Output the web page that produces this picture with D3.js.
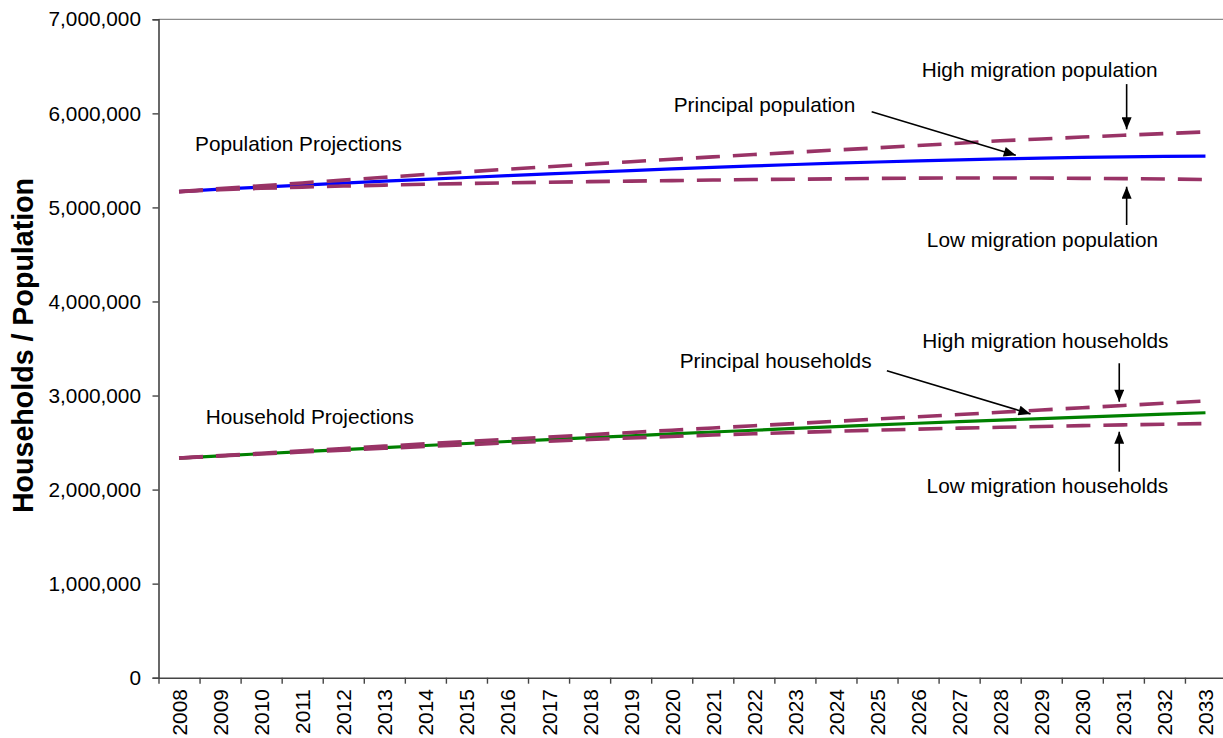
<!DOCTYPE html>
<html>
<head>
<meta charset="utf-8">
<script src="https://cdn.jsdelivr.net/npm/d3@7"></script>
<style>
  html, body { margin: 0; padding: 0; background: #fff; }
  svg { display: block; font-family: "Liberation Sans", Arial, sans-serif; }
</style>
</head>
<body>
<svg id="chart" width="1223" height="738"></svg>
<script>
// ---------- data ----------
const years = d3.range(2008, 2034);
const yTicks = [0, 1000000, 2000000, 3000000, 4000000, 5000000, 6000000, 7000000];

const popPrincipal = [5.168,5.194,5.216,5.238,5.259,5.279,5.299,5.318,5.337,5.356,5.374,5.392,5.409,5.425,5.441,5.456,5.470,5.483,5.495,5.506,5.516,5.524,5.531,5.537,5.542,5.545];
const popHigh      = [5.168,5.200,5.230,5.260,5.290,5.320,5.350,5.378,5.406,5.433,5.460,5.486,5.512,5.537,5.562,5.586,5.610,5.633,5.658,5.683,5.708,5.728,5.748,5.767,5.785,5.803];
const popLow       = [5.168,5.188,5.203,5.216,5.227,5.237,5.246,5.254,5.261,5.268,5.274,5.280,5.285,5.291,5.296,5.300,5.304,5.308,5.311,5.313,5.313,5.312,5.309,5.306,5.302,5.297];

const hhPrincipal  = [2.335,2.358,2.381,2.403,2.425,2.447,2.469,2.490,2.511,2.532,2.552,2.572,2.592,2.612,2.631,2.650,2.669,2.687,2.705,2.722,2.739,2.755,2.771,2.787,2.802,2.817];
const hhHigh       = [2.335,2.361,2.387,2.412,2.437,2.462,2.487,2.511,2.535,2.559,2.583,2.607,2.631,2.655,2.679,2.702,2.726,2.750,2.774,2.798,2.822,2.846,2.870,2.894,2.918,2.942];
const hhLow        = [2.335,2.357,2.378,2.399,2.419,2.439,2.458,2.477,2.496,2.514,2.532,2.549,2.565,2.580,2.594,2.607,2.620,2.632,2.643,2.653,2.662,2.671,2.680,2.688,2.695,2.702];

// annotations in data units (year, value in millions)
const annoTexts = [
  {text: "Population Projections",     year: 2008.39, val: 5.600, anchor: "start"},
  {text: "Household Projections",      year: 2008.65, val: 2.694, anchor: "start"},
  {text: "High migration population",  year: 2028.96, val: 6.391, anchor: "middle"},
  {text: "Low migration population",   year: 2029.03, val: 4.582, anchor: "middle"},
  {text: "Principal population",       year: 2022.26, val: 6.011, anchor: "middle"},
  {text: "Principal households",       year: 2022.53, val: 3.289, anchor: "middle"},
  {text: "High migration households",  year: 2029.10, val: 3.502, anchor: "middle"},
  {text: "Low migration households",   year: 2029.15, val: 1.960, anchor: "middle"}
];
const annoArrows = [
  {y0: 2031.08, v0: 6.311, y1: 2031.08, v1: 5.830},
  {y0: 2031.08, v0: 4.813, y1: 2031.08, v1: 5.220},
  {y0: 2024.87, v0: 6.017, y1: 2028.38, v1: 5.554},
  {y0: 2025.24, v0: 3.264, y1: 2028.74, v1: 2.804},
  {y0: 2030.90, v0: 3.343, y1: 2030.90, v1: 2.934},
  {y0: 2030.90, v0: 2.190, y1: 2030.90, v1: 2.615}
];

// ---------- layout ----------
const svg = d3.select("#chart");
const plotLeft = 158.5, plotRight = 1226, plotTop = 19.3, plotBottom = 677.7;
const x = d3.scaleLinear().domain([2007.5, 2033.5]).range([plotLeft, plotRight]);
const y = d3.scaleLinear().domain([0, 7000000]).range([plotBottom, plotTop]);
const fs = 20.8;

// top border of plot area
svg.append("line").attr("x1", plotLeft).attr("x2", 1223).attr("y1", plotTop).attr("y2", plotTop)
  .attr("stroke", "#8c8c8c").attr("stroke-width", 1.2);

// y axis
const yAxis = svg.append("g").attr("transform", `translate(${plotLeft},0)`)
  .call(d3.axisLeft(y).tickValues(yTicks).tickSize(6).tickPadding(11.5).tickFormat(d3.format(",")));
yAxis.select(".domain").attr("stroke", "#444").attr("stroke-width", 1.6);
yAxis.selectAll(".tick line").attr("stroke", "#444").attr("stroke-width", 1.4);
yAxis.selectAll(".tick text").attr("font-size", fs).attr("fill", "#000")
  .attr("font-family", "Liberation Sans, Arial, sans-serif");

// x axis (ticks between categories)
const bounds = d3.range(2007.5, 2033.5, 1);
const xAxis = svg.append("g").attr("transform", `translate(0,${plotBottom})`)
  .call(d3.axisBottom(x).tickValues(bounds).tickSize(6).tickFormat("").tickSizeOuter(0));
xAxis.select(".domain").attr("stroke", "#444").attr("stroke-width", 1.4);
xAxis.selectAll(".tick line").attr("stroke", "#444").attr("stroke-width", 1.4);

const xLab = svg.append("g").attr("transform", `translate(0,${plotBottom})`)
  .call(d3.axisBottom(x).tickValues(years).tickSize(0).tickFormat(d3.format("d")));
xLab.select(".domain").remove();
xLab.selectAll(".tick text")
  .attr("font-size", fs).attr("fill", "#000").attr("font-family", "Liberation Sans, Arial, sans-serif")
  .attr("text-anchor", "end")
  .attr("transform", "translate(0,11.5) rotate(-90)")
  .attr("x", 0).attr("y", 0).attr("dy", "0.36em");

// y axis title
svg.append("text")
  .attr("transform", `translate(33.3,345.5) rotate(-90)`)
  .attr("text-anchor", "middle")
  .attr("font-size", 28.6).attr("font-weight", "bold")
  .text("Households / Population");

// ---------- lines ----------
const line = d3.line().x((d, i) => x(years[i])).y(d => y(d * 1e6));
const solid = [
  {data: popPrincipal, color: "#0000ff"},
  {data: hhPrincipal, color: "#008000"}
];
const dashed = [popHigh, popLow, hhHigh, hhLow];

svg.append("g").selectAll("path").data(solid).join("path")
  .attr("d", d => line(d.data)).attr("fill", "none")
  .attr("stroke", d => d.color).attr("stroke-width", 3.2);

svg.append("g").selectAll("path").data(dashed).join("path")
  .attr("d", d => line(d)).attr("fill", "none")
  .attr("stroke", "#993366").attr("stroke-width", 3.6)
  .attr("stroke-dasharray", "24,13");

// ---------- annotations ----------
svg.append("defs").append("marker")
  .attr("id", "arrow").attr("viewBox", "0 0 12 10").attr("refX", 12).attr("refY", 5)
  .attr("markerUnits", "userSpaceOnUse").attr("markerWidth", 13).attr("markerHeight", 10)
  .attr("orient", "auto")
  .append("path").attr("d", "M0,0 L12,5 L0,10 Z").attr("fill", "#000");

svg.append("g").selectAll("line").data(annoArrows).join("line")
  .attr("x1", d => x(d.y0)).attr("y1", d => y(d.v0 * 1e6))
  .attr("x2", d => x(d.y1)).attr("y2", d => y(d.v1 * 1e6))
  .attr("stroke", "#000").attr("stroke-width", 1.6)
  .attr("marker-end", "url(#arrow)");

svg.append("g").selectAll("text").data(annoTexts).join("text")
  .attr("x", d => x(d.year)).attr("y", d => y(d.val * 1e6))
  .attr("text-anchor", d => d.anchor)
  .attr("font-size", fs).attr("fill", "#000")
  .text(d => d.text);
</script>
</body>
</html>
